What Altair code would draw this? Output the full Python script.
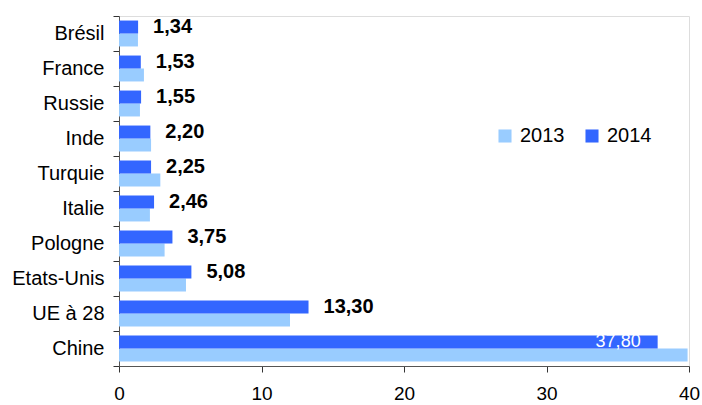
import altair as alt
import pandas as pd

countries = ["Brésil", "France", "Russie", "Inde", "Turquie", "Italie",
             "Pologne", "Etats-Unis", "UE à 28", "Chine"]
v2013 = [1.33, 1.75, 1.47, 2.25, 2.9, 2.17, 3.2, 4.7, 12.0, 39.9]
v2014 = [1.34, 1.53, 1.55, 2.20, 2.25, 2.46, 3.75, 5.08, 13.30, 37.80]
labels2014 = ["1,34", "1,53", "1,55", "2,20", "2,25", "2,46", "3,75", "5,08", "13,30", "37,80"]

rows = []
for c, a, b, lab in zip(countries, v2013, v2014, labels2014):
    rows.append({"pays": c, "annee": "2013", "valeur": a, "label": ""})
    rows.append({"pays": c, "annee": "2014", "valeur": b, "label": lab})
df = pd.DataFrame(rows)

FONT = "Liberation Sans"

y_enc = alt.Y("pays:N", sort=countries, title=None,
              scale=alt.Scale(paddingInner=0, paddingOuter=0),
              axis=alt.Axis(tickBand="extent", labelFontSize=20, labelFont=FONT,
                            labelColor="black", tickSize=6, labelPadding=9,
                            domainColor="#555555", tickColor="#333333"))
yoff = alt.YOffset("annee:N", sort=["2014", "2013"],
                   scale=alt.Scale(paddingInner=0, paddingOuter=0.35))
x_enc = alt.X("valeur:Q", title=None,
              scale=alt.Scale(domain=[0, 40], nice=False),
              axis=alt.Axis(values=[0, 10, 20, 30, 40], grid=False, labelFontSize=19,
                            labelFont=FONT, labelColor="black", tickSize=6,
                            labelPadding=12, domainColor="#555555", tickColor="#333333",
                            labelFlush=False))

bars = alt.Chart(df).mark_bar().encode(
    x=x_enc, y=y_enc, yOffset=yoff,
    color=alt.Color("annee:N",
                    scale=alt.Scale(domain=["2013", "2014"], range=["#99CCFF", "#3366FF"]),
                    legend=alt.Legend(title=None, orient="none", legendX=376, legendY=110,
                                      direction="horizontal", symbolType="square",
                                      symbolSize=170, symbolStrokeWidth=0,
                                      labelFontSize=20, labelFont=FONT, labelColor="black",
                                      labelOffset=5, columnPadding=17, padding=0))
)

outside = alt.Chart(df).transform_filter(
    "datum.annee == '2014' && datum.pays != 'Chine'"
).mark_text(align="left", baseline="middle", dx=15, fontSize=20, fontWeight="bold",
            font=FONT, color="black").encode(
    x="valeur:Q", y=alt.Y("pays:N", sort=countries), yOffset=yoff, text="label:N")

inside = alt.Chart(df).transform_filter(
    "datum.annee == '2014' && datum.pays == 'Chine'"
).mark_text(align="right", baseline="middle", dx=-17, fontSize=18,
            font=FONT, color="white").encode(
    x="valeur:Q", y=alt.Y("pays:N", sort=countries), yOffset=yoff, text="label:N")

chart = alt.layer(bars, outside, inside).properties(
    width=570, height=350,
    autosize=alt.AutoSizeParams(type="none"),
    padding={"left": 119, "top": 16, "right": 13, "bottom": 39},
).configure_view(stroke=None).configure(background="white")

chart.save("out.html", embed_options={"renderer": "svg", "actions": False})
